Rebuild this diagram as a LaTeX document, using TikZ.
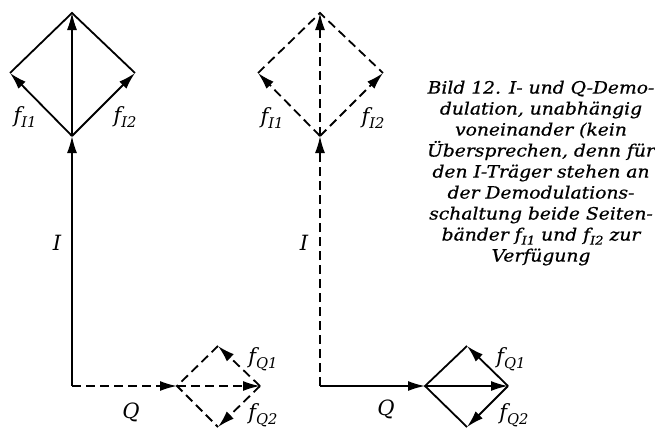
\documentclass[tikz,border=0pt]{standalone}
\usepackage{fontspec}
\newfontfamily\bildfont{DejaVu Serif}
\newfontfamily\unterschriftfont[FakeStretch=1.1,FakeBold=0.6]{DejaVu Serif}
\usetikzlibrary{arrows.meta}
\newcommand{\fsub}[1]{\textit{f}\raisebox{-0.45ex}{\fontsize{0.7em}{1em}\selectfont\itshape #1}}

\tikzset{
  vek/.style={line width=1.8pt,-{Latex[length=17pt,width=10pt]}},
  kante/.style={line width=1.8pt},
  gestr/.style={dash pattern=on 9pt off 5pt},
  lbl/.style={font=\bildfont\itshape\fontsize{21}{21}\selectfont,inner sep=0pt}
}

\begin{document}
\begin{tikzpicture}[x=1pt,y=-1pt]
  \useasboundingbox (0,0) rectangle (655,429);
  % linkes Diagramm: Ecken
  \coordinate (o1) at (72,386);
  \coordinate (b1) at (72,136); \coordinate (l1) at (10,73);
  \coordinate (r1) at (135,73); \coordinate (t1) at (72,13);
  \coordinate (ql1) at (177,386); \coordinate (qt1) at (218,346);
  \coordinate (qr1) at (260,386); \coordinate (qb1) at (218,427);
  % rechtes Diagramm: Ecken
  \coordinate (o2) at (320,386);
  \coordinate (b2) at (320,136); \coordinate (l2) at (258,73);
  \coordinate (r2) at (383,73); \coordinate (t2) at (320,13);
  \coordinate (ql2) at (425,386); \coordinate (qt2) at (467,346);
  \coordinate (qr2) at (508,386); \coordinate (qb2) at (467,427);

  % links: I durchgezogen, Q gestrichelt
  \draw[vek] (o1) -- (b1);
  \draw[vek,line width=1.2pt] (b1) -- (t1);
  \draw[vek] (b1) -- (l1); \draw[vek] (b1) -- (r1);
  \draw[kante] (l1) -- (t1) -- (r1);
  \draw[vek,gestr] (o1) -- (ql1);
  \draw[vek,gestr] (ql1) -- (qr1);
  \draw[vek,gestr] (qr1) -- (qt1); \draw[vek,gestr] (qr1) -- (qb1);
  \draw[kante,gestr] (qt1) -- (ql1) -- (qb1);

  % rechts: I gestrichelt, Q durchgezogen
  \draw[vek,gestr] (o2) -- (b2);
  \draw[vek,gestr] (b2) -- (t2);
  \draw[vek,gestr] (b2) -- (l2); \draw[vek,gestr] (b2) -- (r2);
  \draw[kante,gestr] (l2) -- (t2) -- (r2);
  \draw[vek] (o2) -- (ql2);
  \draw[vek] (ql2) -- (qr2);
  \draw[vek] (qr2) -- (qt2); \draw[vek] (qr2) -- (qb2);
  \draw[kante] (qt2) -- (ql2) -- (qb2);

  % Beschriftung
  \node[lbl] (fi1a) at (25,117) {\fsub{I1}};
  \node[lbl] (fi2a) at (125,117) {\fsub{I2}};
  \node[lbl] (ia) at (57,243) {I};
  \node[lbl] (qa) at (131,412) {Q};
  \node[lbl] (fq1a) at (263,359) {\fsub{Q1}};
  \node[lbl] (fq2a) at (263,415) {\fsub{Q2}};
  \node[lbl] (fi1b) at (272,118) {\fsub{I1}};
  \node[lbl] (fi2b) at (373,118) {\fsub{I2}};
  \node[lbl] (ib) at (304,243) {I};
  \node[lbl] (qb) at (386,409) {Q};
  \node[lbl] (fq1b) at (511,359) {\fsub{Q1}};
  \node[lbl] (fq2b) at (514,415) {\fsub{Q2}};

  \node[align=center,inner sep=0pt,font=\unterschriftfont\itshape\fontsize{17}{21}\selectfont]
    (bild) at (541,173) {Bild 12. I- und Q-Demo-\\dulation, unabhängig\\voneinander (kein\\
    Übersprechen, denn für\\den I-Träger stehen an\\der Demodulations-\\
    schaltung beide Seiten-\\bänder \fsub{I1} und \fsub{I2} zur\\Verfügung};
\end{tikzpicture}
\end{document}
